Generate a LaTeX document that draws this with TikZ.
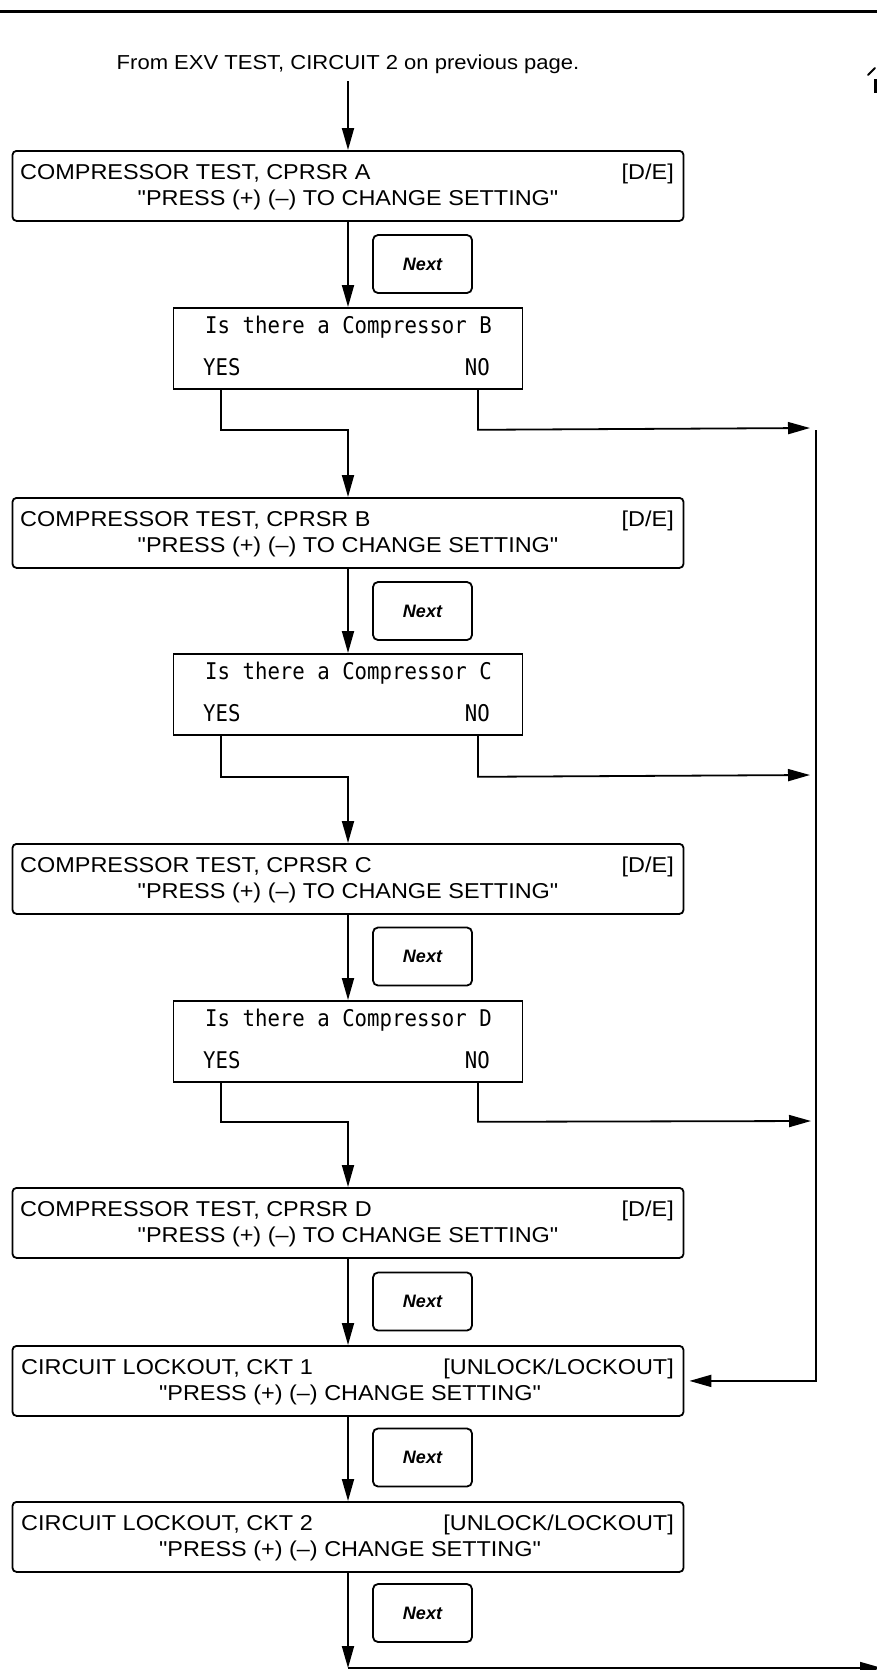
\documentclass[tikz,border=0pt]{standalone}
\usepackage{fontspec}
\setmainfont{Liberation Sans}
\newfontfamily\boxfont[FakeStretch=1.09]{Liberation Sans}
\newfontfamily\qfont[FakeStretch=0.9]{DejaVu Sans Mono}
\usetikzlibrary{arrows.meta,calc}
\begin{document}
\begin{tikzpicture}[x=1pt,y=-1pt,
  lw/.style={line width=1.8pt},
  arr/.style={lw,-{Triangle[length=22pt,width=12pt]}},
  mainbox/.style={draw,lw,rounded corners=4pt,minimum width=671pt,minimum height=70pt,inner sep=0pt,anchor=north},
  qbox/.style={draw,lw,minimum width=349pt,minimum height=81pt,inner sep=0pt,anchor=north},
  nextbox/.style={draw,lw,rounded corners=5pt,minimum width=99pt,minimum height=58pt,inner sep=0pt,
    font=\fontsize{18pt}{20pt}\selectfont\bfseries\itshape},
  ttl/.style={font=\boxfont\fontsize{21.5pt}{24pt}\selectfont,inner sep=0pt},
  fromtxt/.style={font=\boxfont\fontsize{20.2pt}{24pt}\selectfont,inner sep=0pt},
  qtxt/.style={font=\qfont\fontsize{23pt}{26pt}\selectfont,inner sep=0pt}
]
\useasboundingbox (0,0) rectangle (877,1670);
% top rule
\coordinate (ruleL) at (0,12);
\coordinate (ruleR) at (877,12);
\draw[line width=3pt] (ruleL) -- (ruleR);
% hand mark at top right
\draw[line width=2pt,line cap=round] (868,75) -- (875,68);
\draw[line width=3.5pt] (876,79) -- (876,93);

\node[fromtxt,anchor=base] (from) at (348,70) {From EXV TEST, CIRCUIT 2 on previous page.};

% ---- main boxes
\node[mainbox] (bA) at (348,150) {};
\node[ttl,anchor=base west] (bA1) at (20,179.5) {COMPRESSOR TEST, CPRSR A};
\node[ttl,anchor=base east] (bA2) at (674,179.5) {[D/E]};
\node[ttl,anchor=base] (bA3) at (348,205.5) {"PRESS (+) (–) TO CHANGE SETTING"};

\node[mainbox] (bB) at (348,497) {};
\node[ttl,anchor=base west] (bB1) at (20,526.5) {COMPRESSOR TEST, CPRSR B};
\node[ttl,anchor=base east] (bB2) at (674,526.5) {[D/E]};
\node[ttl,anchor=base] (bB3) at (348,552.5) {"PRESS (+) (–) TO CHANGE SETTING"};

\node[mainbox] (bC) at (348,843) {};
\node[ttl,anchor=base west] (bC1) at (20,872.5) {COMPRESSOR TEST, CPRSR C};
\node[ttl,anchor=base east] (bC2) at (674,872.5) {[D/E]};
\node[ttl,anchor=base] (bC3) at (348,898.5) {"PRESS (+) (–) TO CHANGE SETTING"};

\node[mainbox] (bD) at (348,1187) {};
\node[ttl,anchor=base west] (bD1) at (20,1216.5) {COMPRESSOR TEST, CPRSR D};
\node[ttl,anchor=base east] (bD2) at (674,1216.5) {[D/E]};
\node[ttl,anchor=base] (bD3) at (348,1242.5) {"PRESS (+) (–) TO CHANGE SETTING"};

\node[mainbox] (c1) at (348,1345) {};
\node[ttl,anchor=base west] (c11) at (21,1374.5) {CIRCUIT LOCKOUT, CKT 1};
\node[ttl,anchor=base east] (c12) at (674,1374.5) {[UNLOCK/LOCKOUT]};
\node[ttl,anchor=base] (c13) at (350,1400.5) {"PRESS (+) (–) CHANGE SETTING"};

\node[mainbox] (c2) at (348,1501) {};
\node[ttl,anchor=base west] (c21) at (21,1530.5) {CIRCUIT LOCKOUT, CKT 2};
\node[ttl,anchor=base east] (c22) at (674,1530.5) {[UNLOCK/LOCKOUT]};
\node[ttl,anchor=base] (c23) at (350,1556.5) {"PRESS (+) (–) CHANGE SETTING"};

% ---- question boxes
\node[qbox] (qB) at (348,307) {};
\node[qtxt,anchor=base west] (qB1) at (205,333.4) {Is there a Compressor B};
\node[qtxt,anchor=base west] (qB2) at (203,375.4) {YES};
\node[qtxt,anchor=base east] (qB3) at (490,375.4) {NO};

\node[qbox] (qC) at (348,653) {};
\node[qtxt,anchor=base west] (qC1) at (205,679.4) {Is there a Compressor C};
\node[qtxt,anchor=base west] (qC2) at (203,721.4) {YES};
\node[qtxt,anchor=base east] (qC3) at (490,721.4) {NO};

\node[qbox] (qD) at (348,1000) {};
\node[qtxt,anchor=base west] (qD1) at (205,1026.4) {Is there a Compressor D};
\node[qtxt,anchor=base west] (qD2) at (203,1068.4) {YES};
\node[qtxt,anchor=base east] (qD3) at (490,1068.4) {NO};

% ---- Next keys
\node[nextbox] (nA) at (422.5,264) {Next};
\node[nextbox] (nB) at (422.5,611) {Next};
\node[nextbox] (nC) at (422.5,956.5) {Next};
\node[nextbox] (nD) at (422.5,1301.5) {Next};
\node[nextbox] (n1) at (422.5,1457.5) {Next};
\node[nextbox] (n2) at (422.5,1613) {Next};

% ---- coordinates
\coordinate (yB) at ($(qB.south west)+(48.5,0)$);
\coordinate (oB) at ($(qB.south east)+(-45.5,0)$);
\coordinate (yC) at ($(qC.south west)+(48.5,0)$);
\coordinate (oC) at ($(qC.south east)+(-45.5,0)$);
\coordinate (yD) at ($(qD.south west)+(48.5,0)$);
\coordinate (oD) at ($(qD.south east)+(-45.5,0)$);
\coordinate (tB) at (810,428);
\coordinate (tC) at (810,775);
\coordinate (tD) at (811,1121);
\coordinate (busT) at (816,430);
\coordinate (bot) at (348,1668);
\coordinate (botR) at (882,1668);

% ---- connectors
\draw[arr] ([yshift=-7pt]from.south) -- (bA.north);
\draw[arr] (bA.south) -- (qB.north);
\draw[arr] (yB) -- ++(0,40) -| (bB.north);
\draw[arr] (oB) -- ++(0,40) -- (tB);
\draw[arr] (bB.south) -- (qC.north);
\draw[arr] (yC) -- ++(0,41) -| (bC.north);
\draw[arr] (oC) -- ++(0,41) -- (tC);
\draw[arr] (bC.south) -- (qD.north);
\draw[arr] (yD) -- ++(0,39) -| (bD.north);
\draw[arr] (oD) -- ++(0,39) -- (tD);
\draw[arr] (bD.south) -- (c1.north);
\draw[arr] (busT) |- ([xshift=5pt]c1.east);
\draw[arr] (c1.south) -- (c2.north);
\draw[arr] (c2.south) -- (bot);
\draw[arr] (bot) -- (botR);
\end{tikzpicture}
\end{document}
